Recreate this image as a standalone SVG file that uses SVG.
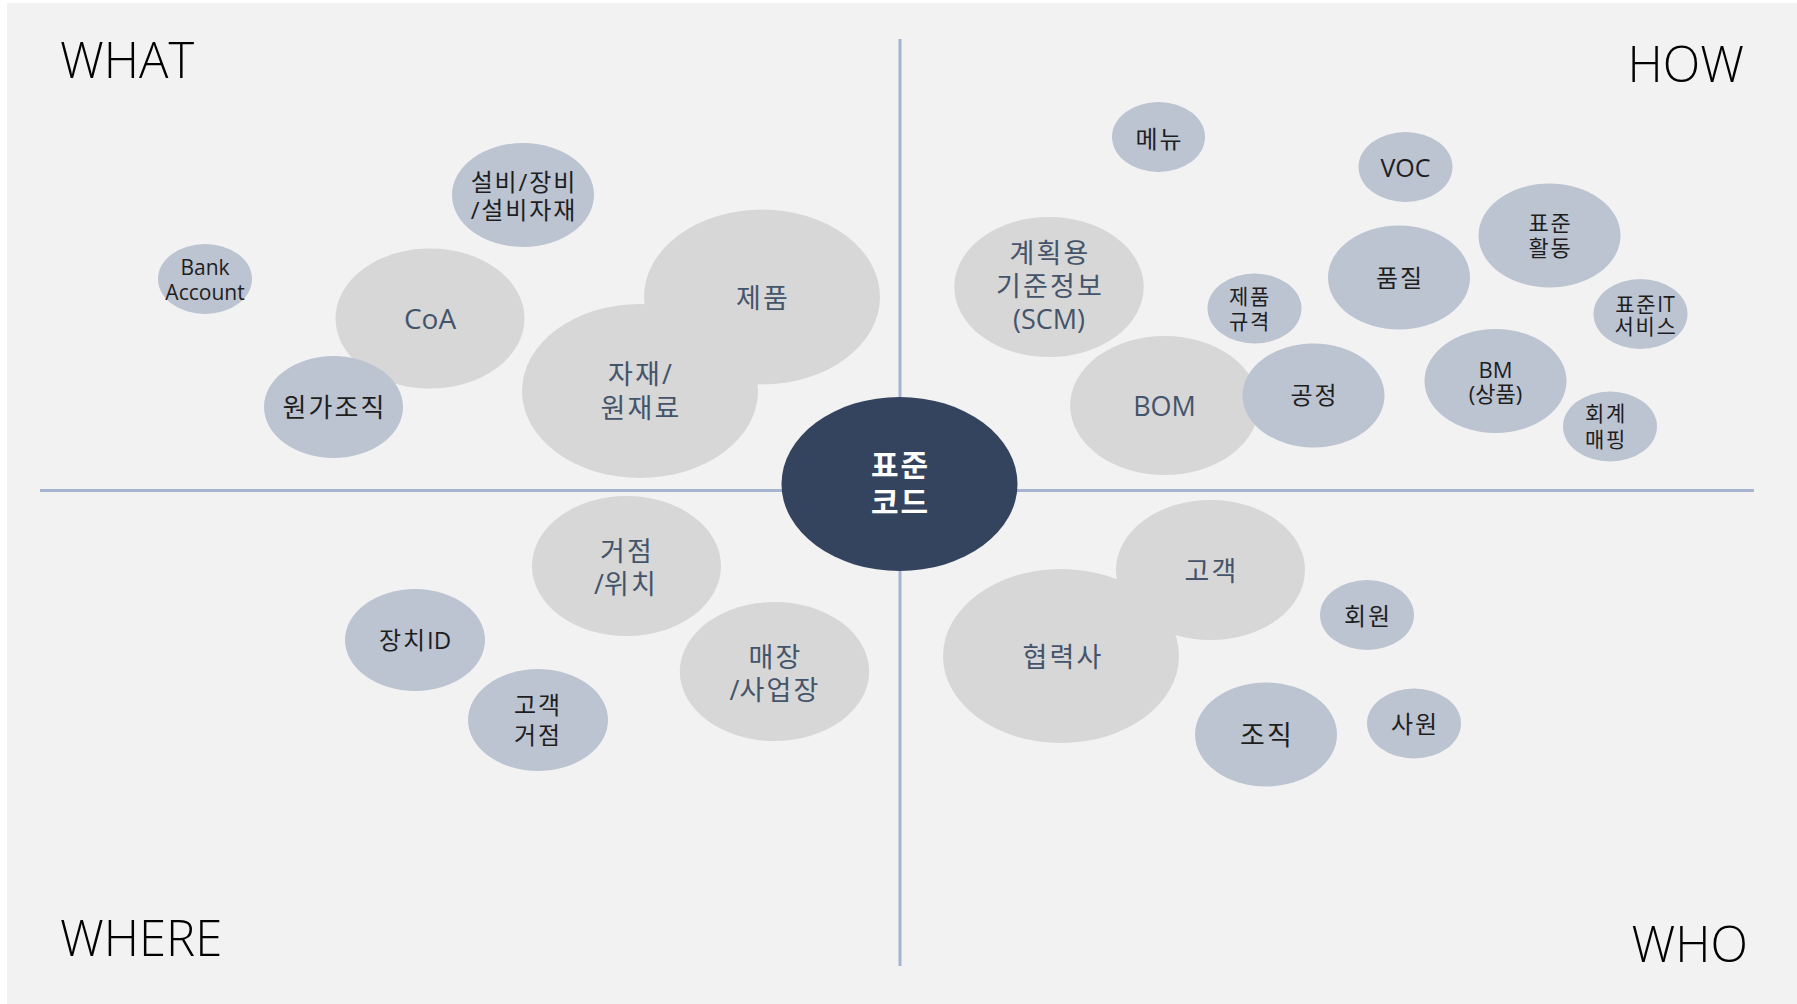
<svg xmlns="http://www.w3.org/2000/svg" width="1797" height="1004" viewBox="0 0 1797 1004">
<style>
.bg{fill:#f2f2f2}
.axis{stroke:#a6b4cf;stroke-width:3;fill:none}
.big{fill:#d7d7d7}
.blue{fill:#bcc3d1}
.core{fill:#34435e}
text{font-family:"Open Sans","Noto Sans CJK KR",sans-serif;text-anchor:middle}
.ko{letter-spacing:0.08em}
.tb{fill:#44546a;font-size:27px}
.tk{fill:#1e1e1e}
.s24{font-size:24px}
.s21{font-size:21px}
.s22{font-size:22px}
.tc{fill:#ffffff;font-size:30px;font-weight:700;letter-spacing:2px}
.q{fill:#000000;font-size:49px;font-weight:300}
</style>
<rect class="bg" x="7" y="3" width="1790" height="1001"/>
<g id="connectors">
<line class="axis" x1="900" y1="39" x2="900" y2="966"/>
<line class="axis" x1="40" y1="490.5" x2="1754" y2="490.5"/>
</g>
<g id="labels">
<text class="q" x="60" y="78" style="text-anchor:start">WHAT</text>
<text class="q" x="1744" y="82" style="text-anchor:end">HOW</text>
<text class="q" x="60" y="956" style="text-anchor:start">WHERE</text>
<text class="q" x="1748" y="962" style="text-anchor:end">WHO</text>
</g>
<g id="n-bank"><ellipse class="blue" cx="205" cy="279" rx="47" ry="35"/><text class="tk s21" x="205" y="275">Bank</text><text class="tk s21" x="205" y="300">Account</text></g>
<g id="n-equip"><ellipse class="blue" cx="523" cy="195" rx="71" ry="52"/><text class="tk s24 ko" x="524" y="191">설비/장비</text><text class="tk s24 ko" x="524" y="219">/설비자재</text></g>
<g id="n-coa"><ellipse class="big" cx="430" cy="318.5" rx="94.5" ry="70"/><text class="tb" x="430" y="329" style="font-size:28px">CoA</text></g>
<g id="n-costorg"><ellipse class="blue" cx="333.5" cy="407" rx="69.5" ry="51"/><text class="tk ko" x="334.5" y="417" style="font-size:26px">원가조직</text></g>
<g id="n-product"><ellipse class="big" cx="762" cy="297" rx="118" ry="87.5"/><text class="tb ko" x="763" y="307.5">제품</text></g>
<g id="n-material"><ellipse class="big" cx="640" cy="391" rx="118" ry="87"/><text class="tb ko" x="641" y="384">자재/</text><text class="tb ko" x="641" y="417.5">원재료</text></g>
<g id="n-menu"><ellipse class="blue" cx="1158.5" cy="137" rx="46.5" ry="35"/><text class="tk s24 ko" x="1159.5" y="147.5">메뉴</text></g>
<g id="n-voc"><ellipse class="blue" cx="1405.5" cy="167" rx="47" ry="35"/><text class="tk" x="1405.5" y="176.5" style="font-size:25px">VOC</text></g>
<g id="n-scm"><ellipse class="big" cx="1049" cy="287" rx="94.7" ry="70"/><text class="tb ko" x="1050" y="263">계획용</text><text class="tb ko" x="1050" y="296">기준정보</text><text class="tb" x="1049" y="329">(SCM)</text></g>
<g id="n-stdact"><ellipse class="blue" cx="1549.5" cy="235.5" rx="71" ry="52"/><text class="tk s22 ko" x="1550.5" y="230.5">표준</text><text class="tk s22 ko" x="1550.5" y="255.5">활동</text></g>
<g id="n-quality"><ellipse class="blue" cx="1399" cy="277.5" rx="71" ry="52"/><text class="tk s24 ko" x="1400" y="286.5">품질</text></g>
<g id="n-spec"><ellipse class="blue" cx="1254.5" cy="308.5" rx="47" ry="35"/><text class="tk s21 ko" x="1250" y="304">제품</text><text class="tk s21 ko" x="1250" y="329">규격</text></g>
<g id="n-stdit"><ellipse class="blue" cx="1640.5" cy="314" rx="47" ry="35"/><text class="tk s21" x="1645" y="311.5"><tspan class="ko">표준</tspan>IT</text><text class="tk s21 ko" x="1646" y="334">서비스</text></g>
<g id="n-bom"><ellipse class="big" cx="1164.5" cy="405.5" rx="94.4" ry="69.5"/><text class="tb" x="1164.5" y="416">BOM</text></g>
<g id="n-process"><ellipse class="blue" cx="1313.5" cy="395.5" rx="71" ry="52"/><text class="tk s24 ko" x="1314.5" y="404">공정</text></g>
<g id="n-bm"><ellipse class="blue" cx="1495.5" cy="381" rx="71" ry="52"/><text class="tk s22" x="1495.5" y="378">BM</text><text class="tk s22" x="1495.5" y="402">(상품)</text></g>
<g id="n-acct"><ellipse class="blue" cx="1610" cy="426.5" rx="47" ry="35"/><text class="tk s21 ko" x="1606" y="421">회계</text><text class="tk s21 ko" x="1606" y="447">매핑</text></g>
<g id="n-site"><ellipse class="big" cx="626.5" cy="566" rx="94.5" ry="70"/><text class="tb ko" x="627" y="560.5">거점</text><text class="tb" x="626" y="593.5">/<tspan class="ko">위치</tspan></text></g>
<g id="n-device"><ellipse class="blue" cx="415" cy="640" rx="70" ry="51"/><text class="tk s24" x="415" y="649"><tspan class="ko">장치</tspan>ID</text></g>
<g id="n-custsite"><ellipse class="blue" cx="538" cy="720" rx="70" ry="51"/><text class="tk s24 ko" x="538" y="714">고객</text><text class="tk s24 ko" x="538" y="744">거점</text></g>
<g id="n-store"><ellipse class="big" cx="774.5" cy="671.5" rx="94.7" ry="69.5"/><text class="tb ko" x="775.5" y="666.5">매장</text><text class="tb" x="775" y="699.5">/<tspan class="ko">사업장</tspan></text></g>
<g id="n-customer"><ellipse class="big" cx="1210.5" cy="570" rx="94.5" ry="70"/><text class="tb ko" x="1211.5" y="580.5">고객</text></g>
<g id="n-partner"><ellipse class="big" cx="1061" cy="656" rx="118" ry="87"/><text class="tb ko" x="1063" y="666.5">협력사</text></g>
<g id="n-member"><ellipse class="blue" cx="1367" cy="615" rx="47" ry="35"/><text class="tk s24 ko" x="1368" y="625">회원</text></g>
<g id="n-org"><ellipse class="blue" cx="1266" cy="734.5" rx="71" ry="52"/><text class="tk ko" x="1267" y="745" style="font-size:27px">조직</text></g>
<g id="n-staff"><ellipse class="blue" cx="1414" cy="723.5" rx="47" ry="35"/><text class="tk s24 ko" x="1415" y="733">사원</text></g>
<g id="n-core"><ellipse class="core" cx="899.5" cy="484" rx="118" ry="87"/><text class="tc" x="900.5" y="476">표준</text><text class="tc" x="900.5" y="513">코드</text></g>
</svg>
